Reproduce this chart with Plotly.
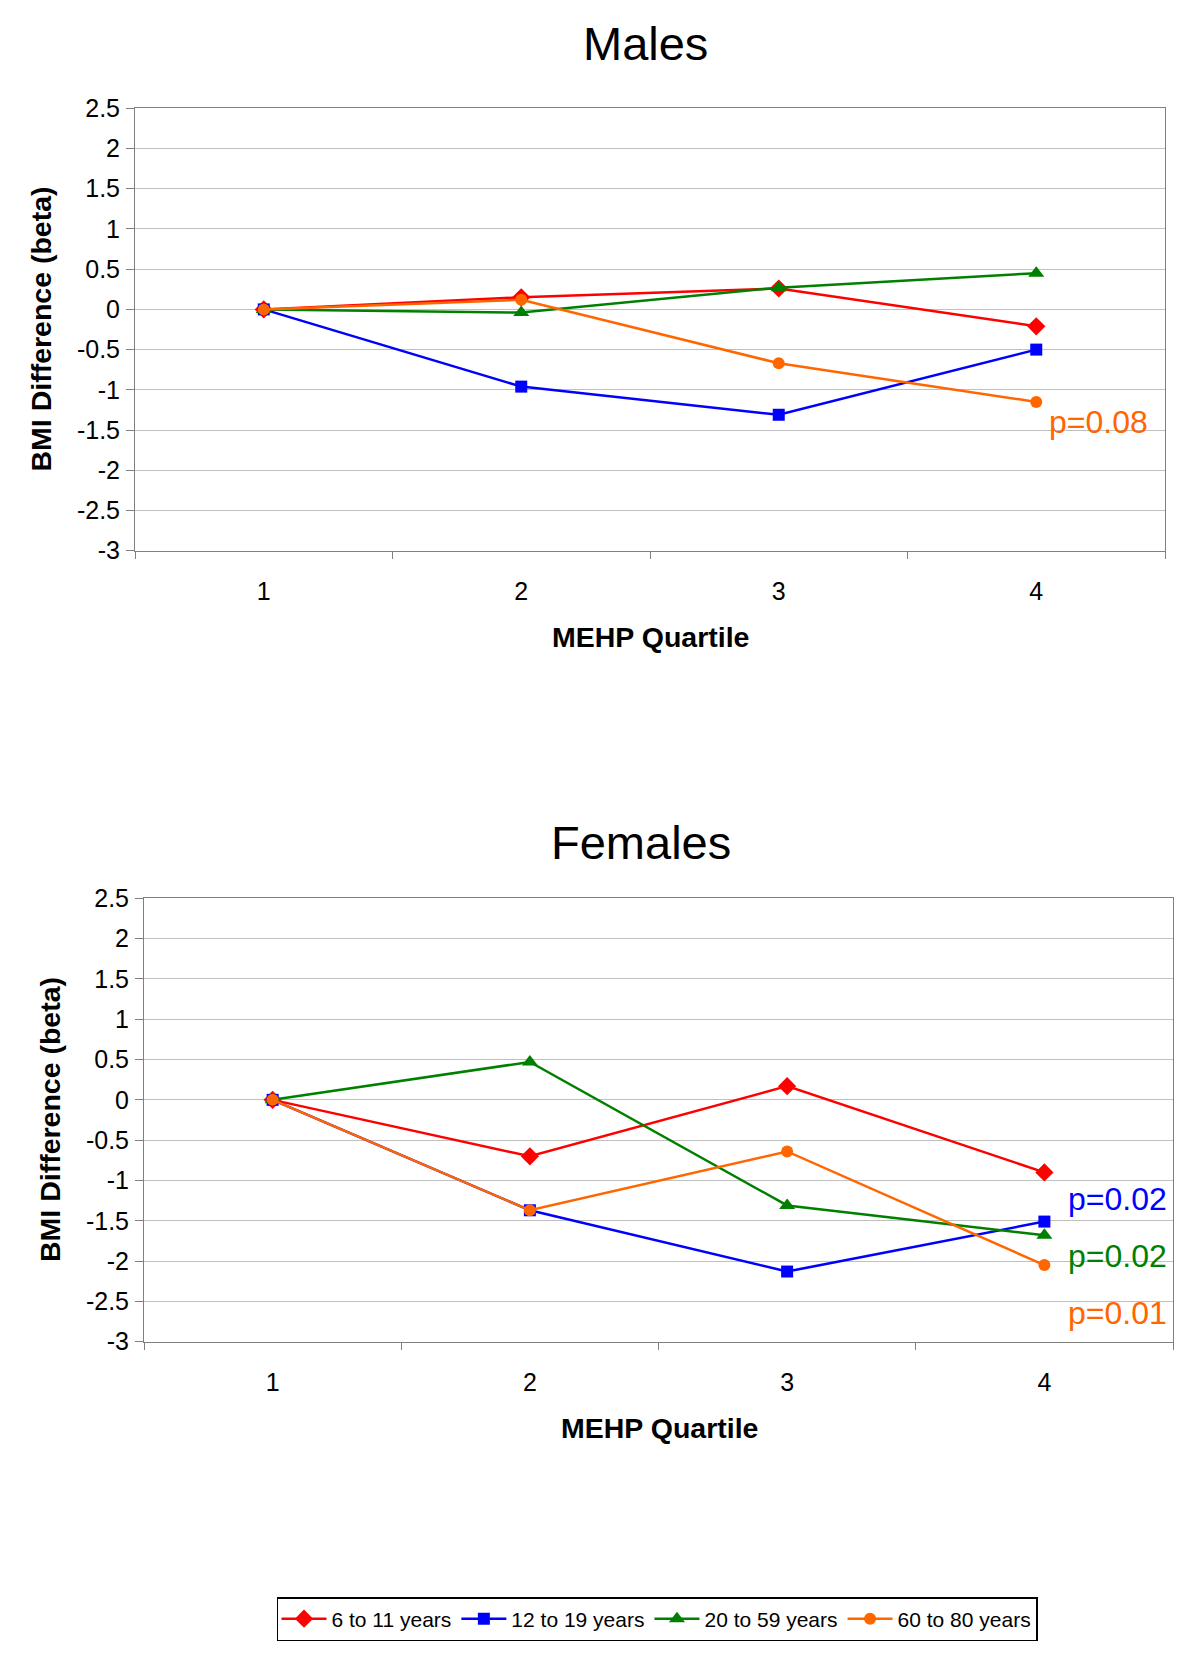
import plotly.graph_objects as go

quartiles = ["1", "2", "3", "4"]
series_names = ["6 to 11 years", "12 to 19 years", "20 to 59 years", "60 to 80 years"]
series_colors = ["#FF0000", "#0000FF", "#008000", "#FF6600"]
series_symbols = ["diamond", "square", "triangle-up", "circle"]

males_6_11 = [0, 0.15, 0.26, -0.21]
males_12_19 = [0, -0.96, -1.31, -0.50]
males_20_59 = [0, -0.04, 0.27, 0.45]
males_60_80 = [0, 0.12, -0.67, -1.15]

females_6_11 = [0, -0.70, 0.17, -0.90]
females_12_19 = [0, -1.37, -2.13, -1.51]
females_20_59 = [0, 0.47, -1.31, -1.68]
females_60_80 = [0, -1.37, -0.64, -2.05]

y_tickvals = [2.5, 2, 1.5, 1, 0.5, 0, -0.5, -1, -1.5, -2, -2.5, -3]
y_ticktext = ["2.5", "2", "1.5", "1", "0.5", "0", "-0.5", "-1", "-1.5", "-2", "-2.5", "-3"]

males_p = [("p=0.08", "#FF6600")]
females_p = [("p=0.02", "#0000FF"), ("p=0.02", "#008000"), ("p=0.01", "#FF6600")]

FONT = "Arial, Liberation Sans, sans-serif"

fig = go.Figure()

males = [males_6_11, males_12_19, males_20_59, males_60_80]
females = [females_6_11, females_12_19, females_20_59, females_60_80]
msizes = [14, 12, 14, 12]

for i in range(4):
    fig.add_trace(go.Scatter(
        x=quartiles, y=males[i], mode="lines+markers", name=series_names[i],
        line=dict(color=series_colors[i], width=2.5),
        marker=dict(symbol=series_symbols[i], size=msizes[i], color=series_colors[i]),
        xaxis="x", yaxis="y", showlegend=True, legendgroup=series_names[i]))
for i in range(4):
    fig.add_trace(go.Scatter(
        x=quartiles, y=females[i], mode="lines+markers", name=series_names[i],
        line=dict(color=series_colors[i], width=2.5),
        marker=dict(symbol=series_symbols[i], size=msizes[i], color=series_colors[i]),
        xaxis="x2", yaxis="y2", showlegend=False, legendgroup=series_names[i]))

W, H = 1200, 1661
OFF = 8  # page offset of the plot div

def px(xp):
    return (xp - OFF) / W

def py(yp):
    return 1 - (yp - OFF) / H

common_x = dict(type="category", categoryorder="array", categoryarray=quartiles,
                range=[-0.5, 3.5], showline=True, mirror=True, linecolor="#808080",
                linewidth=1, ticks="outside", tickson="boundaries", ticklen=7,
                tickcolor="#808080", showgrid=False, zeroline=False, automargin=False,
                tickfont=dict(family=FONT, size=25, color="black"),
                ticklabelstandoff=18)
common_y = dict(range=[-3, 2.5], tickvals=y_tickvals, ticktext=y_ticktext,
                showline=True, mirror=True, linecolor="#808080", linewidth=1,
                ticks="outside", ticklen=8, tickcolor="#808080", automargin=False,
                showgrid=True, gridcolor="#C0C0C0", gridwidth=1, zeroline=False,
                tickfont=dict(family=FONT, size=25, color="black"),
                ticklabelstandoff=1)

fig.update_layout(
    template="none",
    autosize=False,
    width=W, height=H,
    margin=dict(l=0, r=0, t=0, b=0, pad=0, autoexpand=False),
    paper_bgcolor="white", plot_bgcolor="white",
    font=dict(family=FONT, color="black"),
    xaxis=dict(domain=[px(135), px(1165)], anchor="y", **common_x),
    yaxis=dict(domain=[py(550.7), py(108.3)], anchor="x", **common_y),
    xaxis2=dict(domain=[px(144), px(1173)], anchor="y2", **common_x),
    yaxis2=dict(domain=[py(1341.7), py(898.3)], anchor="x2", **common_y),
    legend=dict(orientation="h", x=px(657), y=py(1619), xanchor="center", yanchor="middle",
                bordercolor="black", borderwidth=1.5, bgcolor="white",
                font=dict(family=FONT, size=21, color="black"),
                itemwidth=45, tracegroupgap=0),
)

ann = []
ann.append(dict(text="Males", x=px(645), y=py(44), xref="paper", yref="paper",
                showarrow=False, font=dict(family=FONT, size=47, color="black"),
                xanchor="center", yanchor="middle"))
ann.append(dict(text="Females", x=px(641), y=py(842), xref="paper", yref="paper",
                showarrow=False, font=dict(family=FONT, size=47, color="black"),
                xanchor="center", yanchor="middle"))
ann.append(dict(text="<b>MEHP Quartile</b>", x=px(650), y=py(637), xref="paper", yref="paper",
                showarrow=False, font=dict(family=FONT, size=28.5, color="black"),
                xanchor="center", yanchor="middle"))
ann.append(dict(text="<b>MEHP Quartile</b>", x=px(659), y=py(1428), xref="paper", yref="paper",
                showarrow=False, font=dict(family=FONT, size=28.5, color="black"),
                xanchor="center", yanchor="middle"))
ann.append(dict(text="<b>BMI Difference (beta)</b>", x=px(40), y=py(329.5), xref="paper", yref="paper",
                showarrow=False, textangle=-90, font=dict(family=FONT, size=28.5, color="black"),
                xanchor="center", yanchor="middle"))
ann.append(dict(text="<b>BMI Difference (beta)</b>", x=px(50), y=py(1120), xref="paper", yref="paper",
                showarrow=False, textangle=-90, font=dict(family=FONT, size=28.5, color="black"),
                xanchor="center", yanchor="middle"))

p_top_pos = [(1098, 421.5)]
for (txt, col), (xx, yy) in zip(males_p, p_top_pos):
    ann.append(dict(text=txt, x=px(xx), y=py(yy), xref="paper", yref="paper", showarrow=False,
                    font=dict(family=FONT, size=32, color=col), xanchor="center", yanchor="middle"))
p_bot_pos = [(1117, 1199), (1117, 1256), (1117, 1313)]
for (txt, col), (xx, yy) in zip(females_p, p_bot_pos):
    ann.append(dict(text=txt, x=px(xx), y=py(yy), xref="paper", yref="paper", showarrow=False,
                    font=dict(family=FONT, size=32, color=col), xanchor="center", yanchor="middle"))

fig.update_layout(annotations=ann)

fig.write_html("out.html")
